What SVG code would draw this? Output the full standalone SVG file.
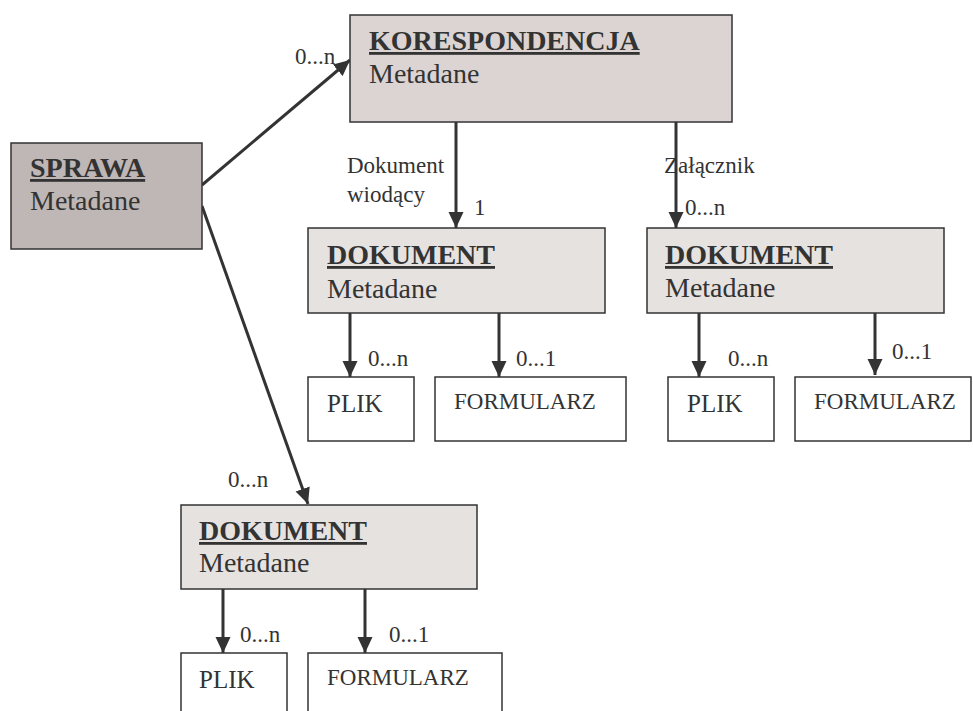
<svg xmlns="http://www.w3.org/2000/svg" width="973" height="711" viewBox="0 0 973 711">
<defs>
<marker id="ah" markerUnits="userSpaceOnUse" markerWidth="16" markerHeight="16" refX="16" refY="8" orient="auto">
<path d="M0,0.5 L16,8 L0,15.5 z" fill="#333"/>
</marker>
<style>
text{font-family:"Liberation Serif","Times New Roman",serif;fill:#333}
.t{font-size:28px;font-weight:bold;text-decoration:underline}
.m{font-size:28px}
.l{font-size:23px}
.p{font-size:25px}
.f{font-size:23px}
.box{stroke:#333;stroke-width:1.5}
.leaf{fill:#fff;stroke:#333;stroke-width:1.5}
.c{stroke:#333;stroke-width:3;fill:none;marker-end:url(#ah)}
</style>
</defs>
<rect width="973" height="711" fill="#fff"/>
<g id="connectors">
<line class="c" x1="202" y1="185" x2="350" y2="60"/>
<line class="c" x1="202" y1="206" x2="308" y2="504"/>
<line class="c" x1="456" y1="122" x2="456" y2="228"/>
<line class="c" x1="676" y1="122" x2="676" y2="228"/>
<line class="c" x1="350" y1="313" x2="350" y2="377"/>
<line class="c" x1="499" y1="313" x2="499" y2="377"/>
<line class="c" x1="699" y1="313" x2="699" y2="377"/>
<line class="c" x1="875" y1="313" x2="875" y2="375"/>
<line class="c" x1="223" y1="589" x2="223" y2="653"/>
<line class="c" x1="365" y1="589" x2="365" y2="653"/>
<text class="l" x="295" y="64">0...n</text>
<text class="l" x="347" y="173">Dokument</text>
<text class="l" x="347" y="202">wiodący</text>
<text class="l" x="474" y="215">1</text>
<text class="l" x="664" y="173">Załącznik</text>
<text class="l" x="685" y="215">0...n</text>
<text class="l" x="368" y="366">0...n</text>
<text class="l" x="516" y="366">0...1</text>
<text class="l" x="728" y="366">0...n</text>
<text class="l" x="892" y="359">0...1</text>
<text class="l" x="228" y="487">0...n</text>
<text class="l" x="240" y="642">0...n</text>
<text class="l" x="389" y="642">0...1</text>
</g>
<g id="sprawa">
<rect class="box" x="11" y="143" width="191" height="106" fill="#bfb7b5"/>
<text class="t" x="30" y="177">SPRAWA</text>
<text class="m" x="30" y="210">Metadane</text>
</g>
<g id="korespondencja">
<rect class="box" x="350" y="15" width="382" height="107" fill="#dbd4d2"/>
<text class="t" x="369" y="50">KORESPONDENCJA</text>
<text class="m" x="369" y="83">Metadane</text>
</g>
<g id="dokument1">
<rect class="box" x="308" y="228" width="297" height="85" fill="#e6e2e0"/>
<text class="t" x="327" y="264">DOKUMENT</text>
<text class="m" x="327" y="298">Metadane</text>
</g>
<g id="dokument2">
<rect class="box" x="647" y="228" width="297" height="85" fill="#e6e2e0"/>
<text class="t" x="665" y="264">DOKUMENT</text>
<text class="m" x="665" y="297">Metadane</text>
</g>
<g id="dokument3">
<rect class="box" x="181" y="505" width="296" height="84" fill="#e6e2e0"/>
<text class="t" x="199" y="540">DOKUMENT</text>
<text class="m" x="199" y="572">Metadane</text>
</g>
<g id="plik1">
<rect class="leaf" x="308" y="377" width="106" height="64"/>
<text class="p" x="327" y="412">PLIK</text>
</g>
<g id="formularz1">
<rect class="leaf" x="435" y="377" width="191" height="64"/>
<text class="f" x="454" y="409">FORMULARZ</text>
</g>
<g id="plik2">
<rect class="leaf" x="668" y="377" width="106" height="64"/>
<text class="p" x="687" y="412">PLIK</text>
</g>
<g id="formularz2">
<rect class="leaf" x="795" y="377" width="176" height="64"/>
<text class="f" x="814" y="409">FORMULARZ</text>
</g>
<g id="plik3">
<rect class="leaf" x="181" y="653" width="106" height="64"/>
<text class="p" x="199" y="688">PLIK</text>
</g>
<g id="formularz3">
<rect class="leaf" x="308" y="653" width="194" height="64"/>
<text class="f" x="327" y="685">FORMULARZ</text>
</g>
</svg>
